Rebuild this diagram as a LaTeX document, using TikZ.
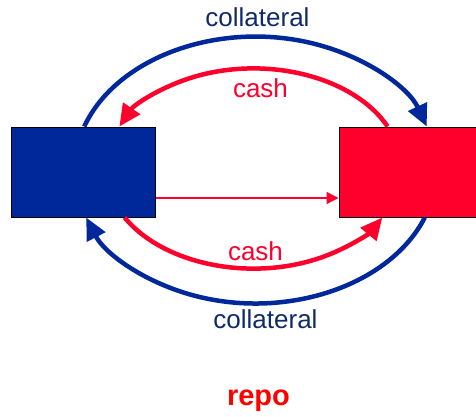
\documentclass[tikz,border=0pt]{standalone}
\usepackage{fontspec}
\setmainfont{Liberation Sans}
\usetikzlibrary{arrows.meta}

\definecolor{bankblue}{RGB}{0,40,155}
\definecolor{bankred}{RGB}{255,0,45}
\definecolor{navytext}{RGB}{15,42,105}
\definecolor{repored}{RGB}{255,0,0}

\tikzset{
  party/.style={draw=black, line width=1pt, minimum width=#1, minimum height=90pt, inner sep=0pt},
  flowblue/.style={draw=bankblue, line width=4.5pt, -{Triangle[length=22pt,width=20pt]}},
  flowred/.style={draw=bankred, line width=4.5pt, -{Triangle[length=22pt,width=20pt]}},
  thinflow/.style={draw=bankred, line width=1.3pt, -{Triangle[length=12pt,width=12pt]}},
  lbl/.style={inner sep=0pt, anchor=base, font=\fontsize{26}{30}\selectfont},
}

\begin{document}
\begin{tikzpicture}[x=1pt, y=1pt]
  \useasboundingbox (0,0) rectangle (476,416);

  % the two counterparties
  \node[party=144pt, fill=bankblue] (A) at (83,244) {};
  \node[party=140pt, fill=bankred]  (B) at (409,244) {};

  % direct transfer between them
  \draw[thinflow] (A.east |- 0,218) -- (B.west |- 0,218);

  % outer (collateral) ellipse: centre (256,246), radii 181 x 133
  \draw[flowblue] ([xshift=73.75pt]A.north west)
    arc[start angle=161.1, end angle=18.9, x radius=181, y radius=133];
  \draw[flowblue] ([xshift=86.3pt]B.south west)
    arc[start angle=-20.7, end angle=-159.3, x radius=181, y radius=133];

  % inner (cash) ellipse: centre (254,247.5), radii 147.5 x 99.5
  \draw[flowred] ([xshift=49.1pt]B.north west)
    arc[start angle=24.6, end angle=155.4, x radius=147.5, y radius=99.5];
  \draw[flowred] ([xshift=114.1pt]A.south west)
    arc[start angle=-150.9, end angle=-29.1, x radius=147.5, y radius=99.5];

  % labels
  \node[lbl, text=navytext] (c1) at (257.5,389) {collateral};
  \node[lbl, text=bankred]  (m1) at (260.5,318.7) {cash};
  \node[lbl, text=bankred]  (m2) at (255.5,156) {cash};
  \node[lbl, text=navytext] (c2) at (265.5,88) {collateral};
  \node[inner sep=0pt, anchor=base, text=repored,
        font=\fontsize{29}{34}\selectfont\bfseries] (t) at (258.5,11) {repo};
\end{tikzpicture}
\end{document}
